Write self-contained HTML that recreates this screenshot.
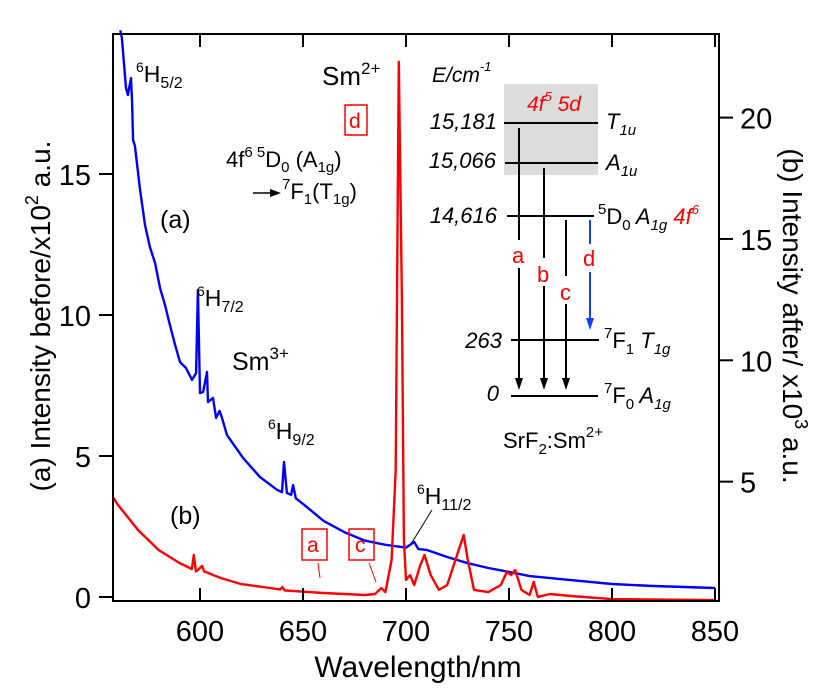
<!DOCTYPE html>
<html><head><meta charset="utf-8"><style>
body{margin:0;background:#fff}
svg{display:block;font-family:"Liberation Sans",Arial,sans-serif}
</style></head><body>
<svg id="chart" width="836" height="688" viewBox="0 0 836 688">
<g id="plot"></g>
<g id="axes"></g>
<g font-size="23">
<text x="136" y="82"><tspan font-size="14" dy="-10">6</tspan><tspan dy="10">H</tspan><tspan font-size="16" dy="6">5/2</tspan></text>
<text x="322" y="85" font-size="26">Sm<tspan font-size="17" dy="-11">2+</tspan></text>
<rect x="345" y="105" width="22" height="30" fill="none" stroke="#f00" stroke-width="1.5"/>
<text x="349" y="128" fill="#f00" font-size="21">d</text>
<text x="226" y="167" font-size="22">4f<tspan font-size="15" dy="-10">6</tspan><tspan font-size="15"> 5</tspan><tspan dy="10">D</tspan><tspan font-size="15" dy="5">0</tspan><tspan dy="-5"> (A</tspan><tspan font-size="15" dy="5">1g</tspan><tspan dy="-5">)</tspan></text>
<line x1="253" y1="193" x2="273" y2="193" stroke="#000" stroke-width="1.5"/><polygon points="281,193 270,189 270,197" fill="#000"/>
<text x="282" y="199" font-size="22"><tspan font-size="15" dy="-10">7</tspan><tspan dy="10">F</tspan><tspan font-size="15" dy="5">1</tspan><tspan dy="-5">(T</tspan><tspan font-size="15" dy="5">1g</tspan><tspan dy="-5">)</tspan></text>
<text x="160" y="228" font-size="25">(a)</text>
<text x="197" y="306"><tspan font-size="14" dy="-10">6</tspan><tspan dy="10">H</tspan><tspan font-size="16" dy="6">7/2</tspan></text>
<text x="232" y="370" font-size="25">Sm<tspan font-size="17" dy="-11">3+</tspan></text>
<text x="268" y="439"><tspan font-size="14" dy="-10">6</tspan><tspan dy="10">H</tspan><tspan font-size="16" dy="6">9/2</tspan></text>
<text x="170" y="524" font-size="25">(b)</text>
<rect x="302" y="529" width="25" height="31" fill="none" stroke="#f00" stroke-width="1.5"/>
<text x="307" y="552" fill="#f00" font-size="21">a</text>
<line x1="318" y1="563" x2="320" y2="578" stroke="#f00"/>
<rect x="349" y="529" width="25" height="31" fill="none" stroke="#f00" stroke-width="1.5"/>
<text x="355" y="552" fill="#f00" font-size="21">c</text>
<line x1="369" y1="563" x2="376" y2="582" stroke="#f00"/>
<text x="417" y="504"><tspan font-size="14" dy="-10">6</tspan><tspan dy="10">H</tspan><tspan font-size="16" dy="6">11/2</tspan></text>
<line x1="432" y1="510" x2="411" y2="544" stroke="#000"/>
</g>
<g font-size="22">
<rect x="504" y="84" width="94" height="91" fill="#dcdcdc"/>
<text x="527" y="111" fill="#f00" font-style="italic" font-size="21">4f<tspan font-size="13" dy="-10">5</tspan><tspan dy="10"> 5d</tspan></text>
<text x="432" y="82" font-style="italic" font-size="21">E/cm<tspan font-size="13" dy="-11">-1</tspan></text>
<g stroke="#000" stroke-width="2">
<line x1="504" y1="123" x2="598" y2="123"/><line x1="505" y1="163" x2="598" y2="163"/>
<line x1="507" y1="216" x2="594" y2="216"/><line x1="511" y1="340" x2="599" y2="340"/>
<line x1="511" y1="396" x2="598" y2="396"/>
<line x1="519" y1="128" x2="519" y2="380"/><line x1="544" y1="168" x2="544" y2="380"/>
<line x1="566" y1="220" x2="566" y2="380"/>
</g>
<g fill="#000"><polygon points="515,378 523,378 519,390"/><polygon points="540,378 548,378 544,390"/><polygon points="562,378 570,378 566,390"/></g>
<line x1="590" y1="220" x2="590" y2="322" stroke="#1040ff" stroke-width="2"/><polygon points="586,318 594,318 590,330" fill="#1040ff"/>
<rect x="511" y="240" width="16" height="28" fill="#fff"/><text x="512" y="263" fill="#f00">a</text>
<rect x="536" y="258" width="16" height="28" fill="#fff"/><text x="537" y="282" fill="#f00">b</text>
<rect x="559" y="276" width="16" height="28" fill="#fff"/><text x="560" y="300" fill="#f00">c</text>
<rect x="582" y="244" width="16" height="28" fill="#fff"/><text x="583" y="266" fill="#f00">d</text>
<g font-style="italic" text-anchor="end">
<text x="497" y="129">15,181</text><text x="496" y="168">15,066</text><text x="497" y="223">14,616</text><text x="502" y="348">263</text><text x="499" y="401">0</text>
</g>
<text x="606" y="129" font-style="italic">T<tspan font-size="15" dy="6">1u</tspan></text>
<text x="606" y="170" font-style="italic">A<tspan font-size="15" dy="6">1u</tspan></text>
<text x="598" y="224"><tspan font-size="15" dy="-10">5</tspan><tspan dy="10">D</tspan><tspan font-size="15" dy="6">0</tspan><tspan dy="-6" font-style="italic"> A</tspan><tspan font-size="15" dy="6" font-style="italic">1g</tspan><tspan dy="-6" fill="#f00" font-style="italic">  4f</tspan><tspan font-size="13" dy="-10" fill="#f00" font-style="italic">6</tspan></text>
<text x="604" y="348"><tspan font-size="15" dy="-10">7</tspan><tspan dy="10">F</tspan><tspan font-size="15" dy="6">1</tspan><tspan dy="-6" font-style="italic"> T</tspan><tspan font-size="15" dy="6" font-style="italic">1g</tspan></text>
<text x="604" y="403"><tspan font-size="15" dy="-10">7</tspan><tspan dy="10">F</tspan><tspan font-size="15" dy="6">0</tspan><tspan dy="-6" font-style="italic"> A</tspan><tspan font-size="15" dy="6" font-style="italic">1g</tspan></text>
<text x="503" y="448" font-size="22">SrF<tspan font-size="15" dy="6">2</tspan><tspan dy="-6">:Sm</tspan><tspan font-size="15" dy="-11">2+</tspan></text>
</g>
</svg>
<script>
const xTicks=[600,650,700,750,800,850];
const leftTicks=[0,5,10,15];
const rightTicks=[5,10,15,20];
const blueWl=[561.3,562.1,564.1,565,566.5,567,567.5,568.4,570.9,573.3,575.7,578.2,580.6,583,585.4,587.9,590.3,593.2,596.1,598.1,599,600,601.5,603.4,603.9,606.3,607.8,609.5,610.7,613.1,620.9,629.1,637.4,639.8,640.8,642.2,644.2,645.2,646.5,650,660,670,680,690,700,704,706,710,720,730,740,750,760,780,800,820,850];
const blueVal=[20.1,19.82,18.05,17.8,18.4,17.62,16.2,16.0,14.43,13.19,12.41,11.84,10.96,10.35,9.65,8.94,8.33,8.12,7.7,7.94,10.89,7.23,7.27,7.98,6.91,7.06,6.35,6.6,6.35,5.74,4.93,4.26,3.8,3.72,4.79,3.69,3.62,3.97,3.5,3.3,2.7,2.3,2.0,1.85,1.75,1.95,1.7,1.67,1.42,1.2,1.03,0.89,0.74,0.6,0.46,0.39,0.32];
const redWl=[558,560,570,580,590,596,597,598,599,601,602,610,620,639,640,641,660,680,685,688,690,693,695,696.5,698,699,700,702,704,707,709,712,716,720,724,728,730,733,740,746,749,751,753,756,760,762,764,770,780,800,850];
const redVal=[4.33,4.06,3.0,2.18,1.65,1.4,1.98,1.3,1.36,1.53,1.3,1.03,0.78,0.56,0.66,0.52,0.41,0.33,0.37,0.62,0.45,1.77,5.48,22.3,12.5,2.6,0.95,1.15,0.74,1.57,1.98,1.15,0.54,0.74,1.77,2.8,1.77,0.54,0.45,0.74,1.28,1.15,1.36,0.54,0.33,0.87,0.25,0.37,0.29,0.16,0.12];
const NS='http://www.w3.org/2000/svg';
const X=w=>200+(w-600)*2.06;
const YL=v=>597-v*28.2;
const YR=v=>603-v*24.27;
function mk(tag,attrs,parent){const e=document.createElementNS(NS,tag);for(const k in attrs)e.setAttribute(k,attrs[k]);parent.appendChild(e);return e;}
const plot=document.getElementById('plot'),axes=document.getElementById('axes');
let d='';blueWl.forEach((w,i)=>{d+=(i?'L':'M')+X(w).toFixed(1)+','+YL(blueVal[i]).toFixed(1);});
const bl=mk('path',{d:d,fill:'none',stroke:'#0000ff','stroke-width':2.4,'stroke-linejoin':'round'},plot);


d='';redWl.forEach((w,i)=>{d+=(i?'L':'M')+X(w).toFixed(1)+','+YR(redVal[i]).toFixed(1);});
const rl=mk('path',{d:d,fill:'none',stroke:'#ff0000','stroke-width':2.4,'stroke-linejoin':'round'},plot);


const fr=mk('rect',{x:113,y:34,width:606,height:567,fill:'none',stroke:'#000','stroke-width':2},axes);


xTicks.forEach(t=>{
 mk('line',{x1:X(t),x2:X(t),y1:601,y2:588,stroke:'#000','stroke-width':2},axes);
 mk('line',{x1:X(t),x2:X(t),y1:34,y2:47,stroke:'#000','stroke-width':2},axes);
 const tx=mk('text',{x:X(t),y:641,'text-anchor':'middle','font-size':29},axes);tx.textContent=t;
 
 
});
leftTicks.forEach(t=>{
 mk('line',{x1:99,x2:113,y1:YL(t),y2:YL(t),stroke:'#000','stroke-width':2},axes);
 const tx=mk('text',{x:91,y:YL(t)+11,'text-anchor':'end','font-size':29},axes);tx.textContent=t;
 
 
});
rightTicks.forEach(t=>{
 mk('line',{x1:719,x2:733,y1:YR(t),y2:YR(t),stroke:'#000','stroke-width':2},axes);
 const tx=mk('text',{x:740,y:YR(t)+11,'font-size':29},axes);tx.textContent=t;
 
 
});
const xt=mk('text',{x:418,y:677,'text-anchor':'middle','font-size':30},axes);xt.textContent='Wavelength/nm';


const lt=mk('text',{transform:'translate(50,316) rotate(-90)','text-anchor':'middle','font-size':28},axes);
lt.innerHTML='(a) Intensity before/x10<tspan font-size="18" dy="-12">2</tspan><tspan dy="12"> a.u.</tspan>';


const rt=mk('text',{transform:'translate(783,316) rotate(90)','text-anchor':'middle','font-size':28},axes);
rt.innerHTML='(b) Intensity after/ x10<tspan font-size="18" dy="-12">3</tspan><tspan dy="12"> a.u.</tspan>';


</script>
</body></html>
